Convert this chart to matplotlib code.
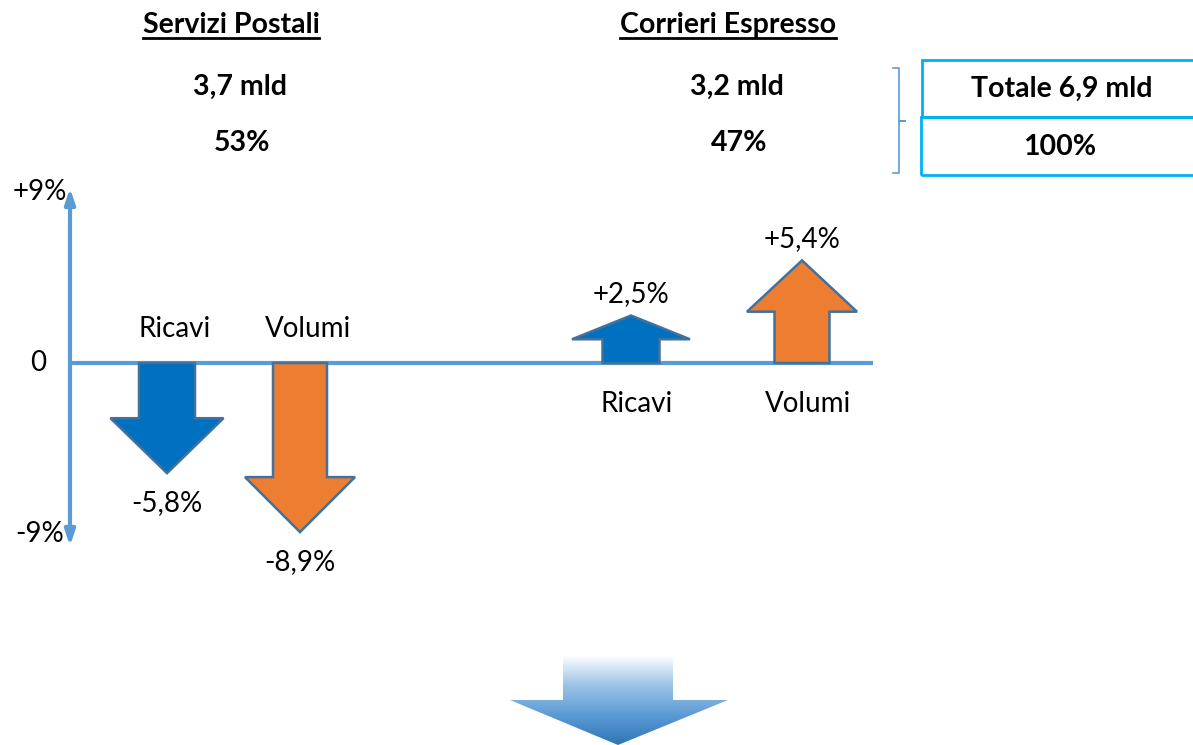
import matplotlib
matplotlib.use("Agg")
import matplotlib.pyplot as plt
import numpy as np
from matplotlib.patches import Polygon, Rectangle
from matplotlib.colors import LinearSegmentedColormap

plt.rcParams['font.family'] = ['Lato', 'DejaVu Sans']

# ---------- dati ----------
segmenti = ["Servizi Postali", "Corrieri Espresso"]
fatturato = ["3,7 mld", "3,2 mld"]
quote = ["53%", "47%"]
totale = "Totale 6,9 mld"
totale_quota = "100%"

categorie = ["Ricavi", "Volumi", "Ricavi", "Volumi"]
variazioni = [-5.8, -8.9, 2.5, 5.4]
etichette = ["-5,8%", "-8,9%", "+2,5%", "+5,4%"]
tick_valori = [9, 0, -9]
tick_testi = ["+9%", "0", "-9%"]

# ---------- impaginazione ----------
W, H = 1193, 745
ZERO_PX = 363          # riga dello zero in pixel
PX_PCT = 19.0          # pixel per punto percentuale
FS = 20                # testo normale
FSB = 20.5             # testo in grassetto

def py(v):
    # da pixel (dall'alto) a unita' dell'asse y (punti %)
    return (ZERO_PX - v) / PX_PCT

x_frecce = [167, 300, 631, 802]
largh_asta = [56, 54, 57, 55]
largh_testa = [113, 110, 118, 110]
colori = ["#0070C0", "#ED7D31", "#0070C0", "#ED7D31"]
BORDO = "#41719C"
ASSE = "#5B9BD5"

fig = plt.figure(figsize=(W / 100, H / 100), dpi=100)
ax = fig.add_axes([0, 0, 1, 1])
ax.set_xlim(0, W)
ax.set_ylim(py(H), py(0))
ax.axis("off")

# ---------- assi ----------
ax.plot([68, 873], [0, 0], color=ASSE, lw=3, solid_capstyle="butt", zorder=2)
for estremo in (py(188), py(546)):
    ax.annotate("", xy=(70, estremo), xytext=(70, 0),
                arrowprops=dict(arrowstyle="-|>,head_length=0.9,head_width=0.3", color=ASSE, lw=3,
                                shrinkA=0, shrinkB=0))
for v, t in zip(tick_valori, tick_testi):
    ax.text(40 if v != 0 else 38, v, t, ha="center", va="center", fontsize=FS, color="black")

# ---------- frecce delle variazioni ----------
testa_max = 55 / PX_PCT
for x, v, ws, wh, c, cat, lab in zip(x_frecce, variazioni, largh_asta, largh_testa,
                                      colori, categorie, etichette):
    s = np.sign(v)
    L = abs(v)
    hl = min(L / 2, testa_max)
    yb = s * (L - hl)
    pts = [(x - ws / 2, 0), (x - ws / 2, yb), (x - wh / 2, yb), (x, v),
           (x + wh / 2, yb), (x + ws / 2, yb), (x + ws / 2, 0)]
    ax.add_patch(Polygon(pts, closed=True, facecolor=c, edgecolor=BORDO, lw=1.8, zorder=3))
    if v < 0:
        ax.text(x + 8, py(329), cat, ha="center", va="center", fontsize=FS)
        ax.annotate(lab, xy=(x, v), xytext=(0, -12), textcoords="offset points",
                    ha="center", va="top", fontsize=FS)
    else:
        ax.text(x + 6, py(404), cat, ha="center", va="center", fontsize=FS)
        ax.annotate(lab, xy=(x, v), xytext=(0, 6), textcoords="offset points",
                    ha="center", va="bottom", fontsize=FS)

# ---------- intestazioni ----------
x_seg = [231, 728]
intestazioni = []
for xs, nome, f, q in zip(x_seg, segmenti, fatturato, quote):
    t = ax.text(xs, py(25), nome, ha="center", va="center", fontsize=FSB, fontweight="bold")
    intestazioni.append(t)
    ax.text(xs + 9, py(87), f, ha="center", va="center", fontsize=FSB, fontweight="bold")
    ax.text(xs + 11, py(143), q, ha="center", va="center", fontsize=FSB, fontweight="bold")

# sottolineatura dei titoli
fig.canvas.draw()
r = fig.canvas.get_renderer()
inv = ax.transData.inverted()
for t in intestazioni:
    bb = t.get_window_extent(renderer=r)
    (x0, y0), (x1, _) = inv.transform([(bb.x0, bb.y0), (bb.x1, bb.y1)])
    ax.plot([x0, x1], [y0 - 0.02, y0 - 0.02], color="black", lw=2)

# ---------- riquadri totale ----------
BOX = "#00B0F0"
ax.add_patch(Rectangle((922, py(117)), 300, py(60) - py(117), fill=False, edgecolor=BOX, lw=2))
ax.add_patch(Rectangle((921, py(175)), 300, py(117) - py(175), fill=False, edgecolor=BOX, lw=2))
ax.text(1062, py(89), totale, ha="center", va="center", fontsize=FSB, fontweight="bold")
ax.text(1060, py(147), totale_quota, ha="center", va="center", fontsize=FSB, fontweight="bold")

# parentesi graffa
ax.plot([893, 899, 899, 905, 899, 899, 893],
        [py(68), py(68), py(121), py(121), py(121), py(173), py(173)],
        color=ASSE, lw=1.2)

# ---------- freccia sfumata in basso ----------
gx = [563, 563, 510, 618, 728, 673, 673]
gy = [py(655), py(700), py(700), py(745), py(700), py(700), py(655)]
sfondo = Polygon(list(zip(gx, gy)), closed=True, facecolor="none", edgecolor="none")
ax.add_patch(sfondo)
cmap = LinearSegmentedColormap.from_list("sf", ["#FFFFFF", "#9DC3E6", "#5B9BD5", "#2E75B6"])
grad = np.linspace(0, 1, 256).reshape(-1, 1)
im = ax.imshow(grad, cmap=cmap, aspect="auto", extent=(510, 728, py(745), py(655)),
               origin="upper", zorder=1)
im.set_clip_path(sfondo)

fig.savefig("out.png", dpi=100)
